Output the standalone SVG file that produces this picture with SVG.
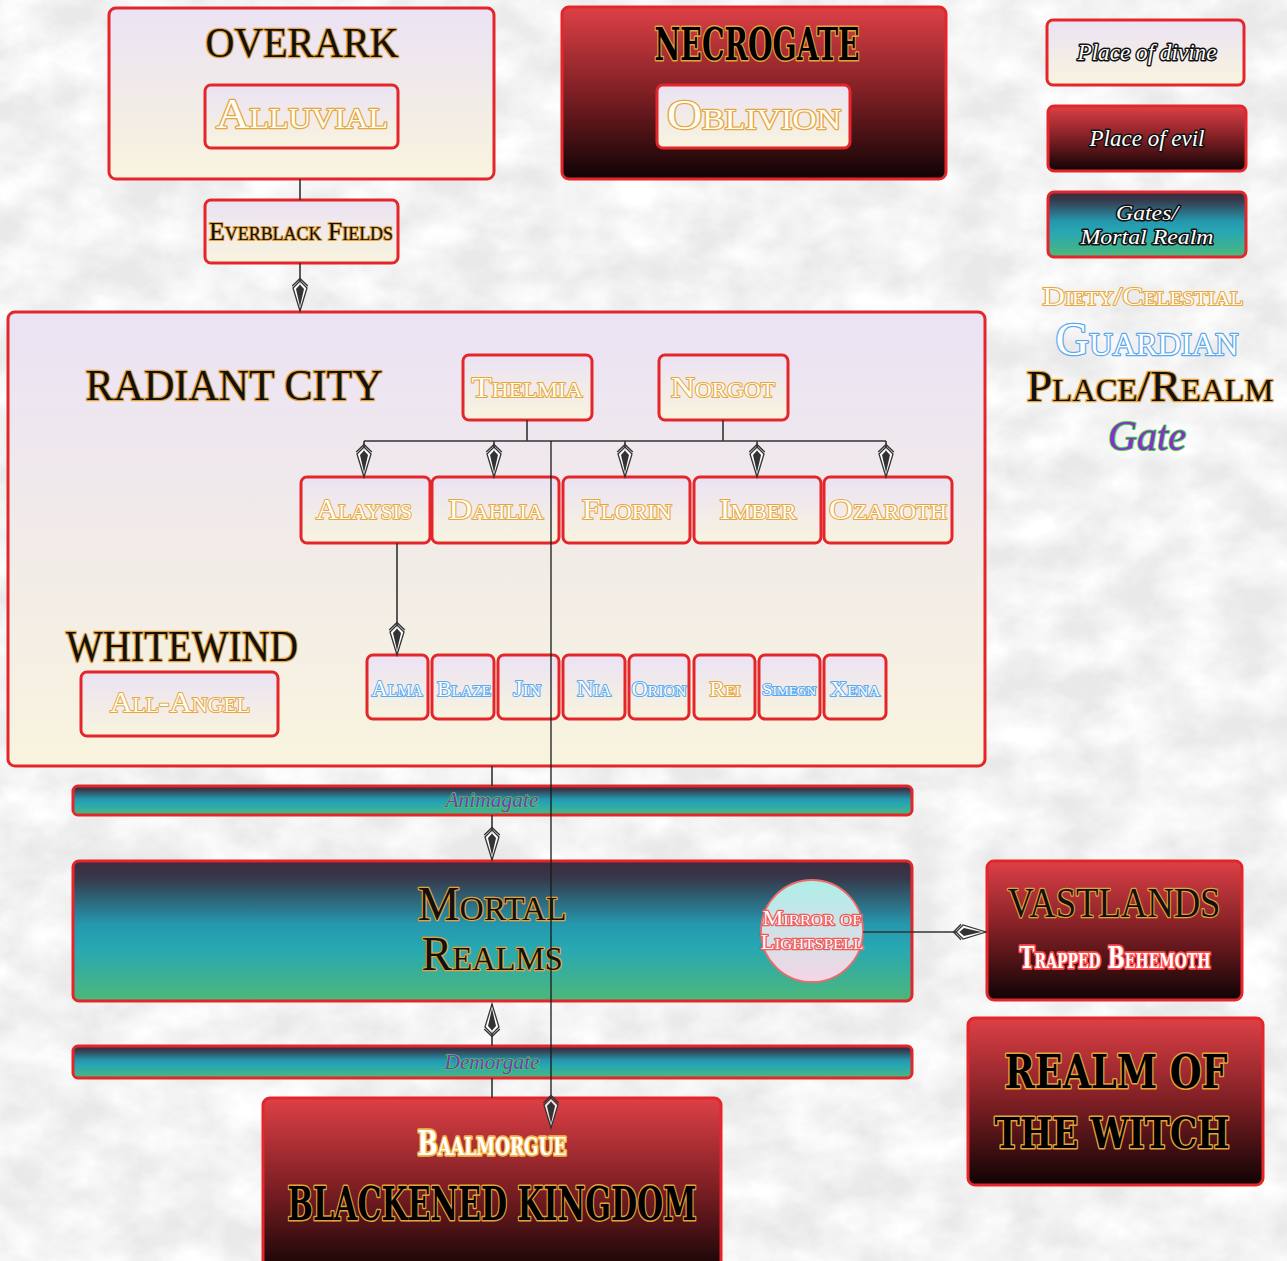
<svg xmlns="http://www.w3.org/2000/svg" width="1287" height="1261" viewBox="0 0 1287 1261">
<defs>
<linearGradient id="gDiv" x1="0" y1="0" x2="0" y2="1"><stop offset="0" stop-color="#ebe2f4"/><stop offset="1" stop-color="#f8f4de"/></linearGradient>
<linearGradient id="gEvil" x1="0" y1="0" x2="0" y2="1"><stop offset="0" stop-color="#dd4046"/><stop offset="0.5" stop-color="#7e1f24"/><stop offset="1" stop-color="#0f0304"/></linearGradient>
<linearGradient id="gGate" x1="0" y1="0" x2="0" y2="1"><stop offset="0" stop-color="#3b2b3d"/><stop offset="0.12" stop-color="#37384a"/><stop offset="0.45" stop-color="#2597ae"/><stop offset="0.62" stop-color="#27a8b3"/><stop offset="1" stop-color="#4db77a"/></linearGradient>
<linearGradient id="gMir" x1="0" y1="0" x2="0" y2="1"><stop offset="0" stop-color="#aeeee8"/><stop offset="1" stop-color="#f4d5e6"/></linearGradient>
<filter id="tex" x="0" y="0" width="1" height="1">
<feTurbulence type="fractalNoise" baseFrequency="0.018 0.024" numOctaves="5" seed="11"/>
<feColorMatrix type="matrix" values="0 0 0 0 1  0 0 0 0 1  0 0 0 0 1  1.8 0 0 0 -0.45"/>
</filter>
<marker id="arr" markerUnits="userSpaceOnUse" markerWidth="36" markerHeight="22" viewBox="-2 -1 36 20" refX="32" refY="9" orient="auto">
<polyline points="7,1.2 -0.5,9 7,16.8" fill="none" stroke="#333" stroke-width="1.3"/>
<polygon points="2,9 9,2 32,9 9,16" fill="#ffffff" fill-opacity="0.85" stroke="#333" stroke-width="1.3"/>
<polygon points="5.5,9 10,5 27.5,9 10,13" fill="#333"/>
</marker>
<style>
.div{fill:url(#gDiv);stroke:#e4262b;stroke-width:3}
.evil{fill:url(#gEvil);stroke:#e4262b;stroke-width:3}
.gate{fill:url(#gGate);stroke:#e4262b;stroke-width:3}
.ser{font-family:"Liberation Serif","DejaVu Serif",serif;text-anchor:middle;paint-order:stroke;stroke-linejoin:round}
.sc{font-variant:small-caps}
.place{fill:#111;stroke:#e3a23a;stroke-width:2.5}
.deity{fill:#fffdf4;stroke:#e6a63e;stroke-width:2.5}
.guard{fill:#ffffff;stroke:#5aa8ee;stroke-width:2.5}
.gtxt{fill:#8a2ec8;stroke:#3ed14a;stroke-width:1.6;font-style:italic}
.goth{font-family:"DejaVu Serif Condensed","DejaVu Serif",serif;font-weight:bold;text-anchor:middle;paint-order:stroke;stroke-linejoin:round;fill:#000;stroke:#e3a23a;stroke-width:3}
.wglow{fill:#ffffff;stroke-width:3.5;font-variant:small-caps}
.redglow{stroke:#ff4a4a}
.orglow{stroke:#f2b648}
.mirglow{stroke:#f05a5a}
.leg{font-family:"Liberation Serif","DejaVu Serif",serif;font-style:italic;text-anchor:middle;paint-order:stroke;stroke-linejoin:round;fill:#fff;stroke:#111;stroke-width:3}
.thin{stroke-width:2}
.con{fill:none;stroke:#333;stroke-width:1.6}
.long{stroke:#1a1a1a;stroke-width:1.3}
</style>
</defs>
<rect width="1287" height="1261" fill="#e9e9e9"/>
<rect width="1287" height="1261" filter="url(#tex)"/>

<g id="overark">
<rect class="div" x="109" y="8" width="385" height="171" rx="7"/>
<text class="ser place" x="302" y="57" font-size="42" textLength="193" lengthAdjust="spacingAndGlyphs">OVERARK</text>
</g>
<g id="alluvial">
<rect class="div" x="205" y="85" width="193" height="63" rx="6"/>
<text class="ser sc deity" x="302" y="128" font-size="42" textLength="172" lengthAdjust="spacingAndGlyphs">Alluvial</text>
</g>
<g id="everblack">
<rect class="div" x="205" y="200" width="193" height="63" rx="6"/>
<text class="ser sc place thin" x="301" y="240" font-size="26" textLength="184" lengthAdjust="spacingAndGlyphs">Everblack Fields</text>
</g>
<g id="necrogate">
<rect class="evil" x="562" y="7" width="384" height="172" rx="7"/>
<text class="goth" x="757" y="60" font-size="44" textLength="205" lengthAdjust="spacingAndGlyphs">NECROGATE</text>
</g>
<g id="oblivion">
<rect class="div" x="657" y="85" width="193" height="63" rx="6"/>
<text class="ser sc deity" x="754" y="129" font-size="42" textLength="174" lengthAdjust="spacingAndGlyphs">Oblivion</text>
</g>

<g id="legend-divine">
<rect class="div" x="1047" y="20" width="197" height="65" rx="6"/>
<text class="leg" x="1147" y="60" font-size="24" textLength="139" lengthAdjust="spacingAndGlyphs">Place of divine</text>
</g>
<g id="legend-evil">
<rect class="evil" x="1048" y="106" width="198" height="65" rx="6"/>
<text class="leg" x="1147" y="146" font-size="24" textLength="115" lengthAdjust="spacingAndGlyphs">Place of evil</text>
</g>
<g id="legend-gate">
<rect class="gate" x="1048" y="192" width="198" height="65" rx="6"/>
<text class="leg" x="1147" y="220" font-size="22" textLength="62" lengthAdjust="spacingAndGlyphs">Gates/</text>
<text class="leg" x="1147" y="244" font-size="22" textLength="133" lengthAdjust="spacingAndGlyphs">Mortal Realm</text>
</g>
<g id="legend-keys">
<text class="ser sc deity thin" x="1143" y="305" font-size="26" textLength="201" lengthAdjust="spacingAndGlyphs">Diety/Celestial</text>
<text class="ser sc guard" x="1147" y="355" font-size="46" textLength="183" lengthAdjust="spacingAndGlyphs">Guardian</text>
<text class="ser sc place" x="1150" y="401" font-size="44" textLength="247" lengthAdjust="spacingAndGlyphs">Place/Realm</text>
<text class="ser gtxt thin" x="1147" y="450" font-size="42" textLength="78" lengthAdjust="spacingAndGlyphs">Gate</text>
</g>

<g id="radiant-city">
<rect class="div" x="8" y="312" width="977" height="454" rx="7"/>
<text class="ser place" x="234" y="400" font-size="45" textLength="297" lengthAdjust="spacingAndGlyphs">RADIANT CITY</text>
</g>
<g id="thelmia">
<rect class="div" x="463" y="355" width="129" height="65" rx="6"/>
<text class="ser sc deity thin" x="527" y="397" font-size="30" textLength="111" lengthAdjust="spacingAndGlyphs">Thelmia</text>
</g>
<g id="norgot">
<rect class="div" x="659" y="355" width="129" height="65" rx="6"/>
<text class="ser sc deity thin" x="723" y="397" font-size="30" textLength="104" lengthAdjust="spacingAndGlyphs">Norgot</text>
</g>
<g id="alaysis">
<rect class="div" x="301" y="477" width="129" height="66" rx="6"/>
<text class="ser sc deity thin" x="364" y="519" font-size="30" textLength="96" lengthAdjust="spacingAndGlyphs">Alaysis</text>
</g>
<g id="dahlia">
<rect class="div" x="432" y="477" width="127" height="66" rx="6"/>
<text class="ser sc deity thin" x="496" y="519" font-size="30" textLength="95" lengthAdjust="spacingAndGlyphs">Dahlia</text>
</g>
<g id="florin">
<rect class="div" x="563" y="477" width="127" height="66" rx="6"/>
<text class="ser sc deity thin" x="627" y="519" font-size="30" textLength="90" lengthAdjust="spacingAndGlyphs">Florin</text>
</g>
<g id="imber">
<rect class="div" x="694" y="477" width="127" height="66" rx="6"/>
<text class="ser sc deity thin" x="758" y="519" font-size="30" textLength="77" lengthAdjust="spacingAndGlyphs">Imber</text>
</g>
<g id="ozaroth">
<rect class="div" x="824" y="477" width="128" height="66" rx="6"/>
<text class="ser sc deity thin" x="888" y="519" font-size="30" textLength="118" lengthAdjust="spacingAndGlyphs">Ozaroth</text>
</g>

<g id="whitewind">
<text class="ser place" x="182" y="661" font-size="45" textLength="232" lengthAdjust="spacingAndGlyphs">WHITEWIND</text>
</g>
<g id="all-angel">
<rect class="div" x="81" y="672" width="197" height="64" rx="6"/>
<text class="ser sc deity thin" x="180" y="712" font-size="30" textLength="140" lengthAdjust="spacingAndGlyphs">All-Angel</text>
</g>

<g id="alma"><rect class="div" x="367" y="655" width="61" height="64" rx="6"/><text class="ser sc guard thin" x="397" y="696" font-size="23" textLength="51" lengthAdjust="spacingAndGlyphs">Alma</text></g>
<g id="blaze"><rect class="div" x="432" y="655" width="62" height="64" rx="6"/><text class="ser sc guard thin" x="464" y="696" font-size="21" textLength="54" lengthAdjust="spacingAndGlyphs">Blaze</text></g>
<g id="jin"><rect class="div" x="498" y="655" width="61" height="64" rx="6"/><text class="ser sc guard thin" x="527" y="696" font-size="23" textLength="28" lengthAdjust="spacingAndGlyphs">Jin</text></g>
<g id="nia"><rect class="div" x="563" y="655" width="62" height="64" rx="6"/><text class="ser sc guard thin" x="594" y="696" font-size="23" textLength="34" lengthAdjust="spacingAndGlyphs">Nia</text></g>
<g id="orion"><rect class="div" x="629" y="655" width="60" height="64" rx="6"/><text class="ser sc guard thin" x="659" y="696" font-size="21" textLength="55" lengthAdjust="spacingAndGlyphs">Orion</text></g>
<g id="rei"><rect class="div" x="694" y="655" width="61" height="64" rx="6"/><text class="ser sc deity thin" x="725" y="696" font-size="21" textLength="31" lengthAdjust="spacingAndGlyphs">Rei</text></g>
<g id="simegn"><rect class="div" x="759" y="655" width="61" height="64" rx="6"/><text class="ser sc guard thin" x="789" y="695" font-size="17" textLength="54" lengthAdjust="spacingAndGlyphs">Simegn</text></g>
<g id="xena"><rect class="div" x="824" y="655" width="62" height="64" rx="6"/><text class="ser sc guard thin" x="855" y="696" font-size="22" textLength="50" lengthAdjust="spacingAndGlyphs">Xena</text></g>

<g id="animagate">
<rect class="gate" x="73" y="786" width="839" height="29" rx="5"/>
<text class="ser gtxt" x="492" y="807" font-size="21" textLength="93" lengthAdjust="spacingAndGlyphs">Animagate</text>
</g>
<g id="mortal-realms">
<rect class="gate" x="73" y="861" width="839" height="140" rx="6"/>
<text class="ser sc place" x="492" y="920" font-size="48" textLength="149" lengthAdjust="spacingAndGlyphs">Mortal</text>
<text class="ser sc place" x="492" y="970" font-size="48" textLength="141" lengthAdjust="spacingAndGlyphs">Realms</text>
</g>
<g id="mirror">
<ellipse cx="812" cy="931" rx="51" ry="51" fill="url(#gMir)" stroke="#f06a6a" stroke-width="1.8"/>
<text class="ser wglow mirglow" x="812" y="925" font-size="21" style="stroke-width:2.5" textLength="99" lengthAdjust="spacingAndGlyphs">Mirror of</text>
<text class="ser wglow mirglow" x="812" y="949" font-size="21" style="stroke-width:2.5" textLength="103" lengthAdjust="spacingAndGlyphs">Lightspell</text>
</g>
<g id="vastlands">
<rect class="evil" x="987" y="861" width="255" height="139" rx="7"/>
<text class="ser place" x="1114" y="917" font-size="42" textLength="213" lengthAdjust="spacingAndGlyphs">VASTLANDS</text>
<text class="goth wglow redglow" x="1115" y="968" font-size="29" textLength="191" lengthAdjust="spacingAndGlyphs">Trapped Behemoth</text>
</g>
<g id="realm-of-the-witch">
<rect class="evil" x="968" y="1018" width="295" height="167" rx="7"/>
<text class="goth" x="1116" y="1088" font-size="46" textLength="223" lengthAdjust="spacingAndGlyphs">REALM OF</text>
<text class="goth" x="1112" y="1148" font-size="43" textLength="235" lengthAdjust="spacingAndGlyphs">THE WITCH</text>
</g>
<g id="demorgate">
<rect class="gate" x="73" y="1046" width="839" height="32" rx="5"/>
<text class="ser gtxt" x="492" y="1069" font-size="21" textLength="95" lengthAdjust="spacingAndGlyphs">Demorgate</text>
</g>
<g id="baalmorgue">
<rect class="evil" x="263" y="1098" width="458" height="178" rx="7"/>
<text class="goth wglow orglow" x="492" y="1155" font-size="34" textLength="149" lengthAdjust="spacingAndGlyphs">Baalmorgue</text>
<text class="goth" x="492" y="1220" font-size="46" textLength="409" lengthAdjust="spacingAndGlyphs">BLACKENED KINGDOM</text>
</g>

<g id="connectors">
<path class="con" d="M300,179 V200"/>
<path class="con" d="M300,263 V311" marker-end="url(#arr)"/>
<path class="con" d="M527,420 V441 M723,420 V441 M364,441 H886"/>
<path class="con" d="M364,441 V477" marker-end="url(#arr)"/>
<path class="con" d="M494,441 V477" marker-end="url(#arr)"/>
<path class="con" d="M625,441 V477" marker-end="url(#arr)"/>
<path class="con" d="M757,441 V477" marker-end="url(#arr)"/>
<path class="con" d="M886,441 V477" marker-end="url(#arr)"/>
<path class="con" d="M397,543 V655" marker-end="url(#arr)"/>
<path class="con long" d="M551,441 V1128" marker-end="url(#arr)"/>
<path class="con" d="M492,766 V786"/>
<path class="con" d="M492,815 V860" marker-end="url(#arr)"/>
<path class="con" d="M492,1046 V1004" marker-end="url(#arr)"/>
<path class="con" d="M492,1078 V1098"/>
<path class="con" d="M863,932 H986" marker-end="url(#arr)"/>
</g>
</svg>
